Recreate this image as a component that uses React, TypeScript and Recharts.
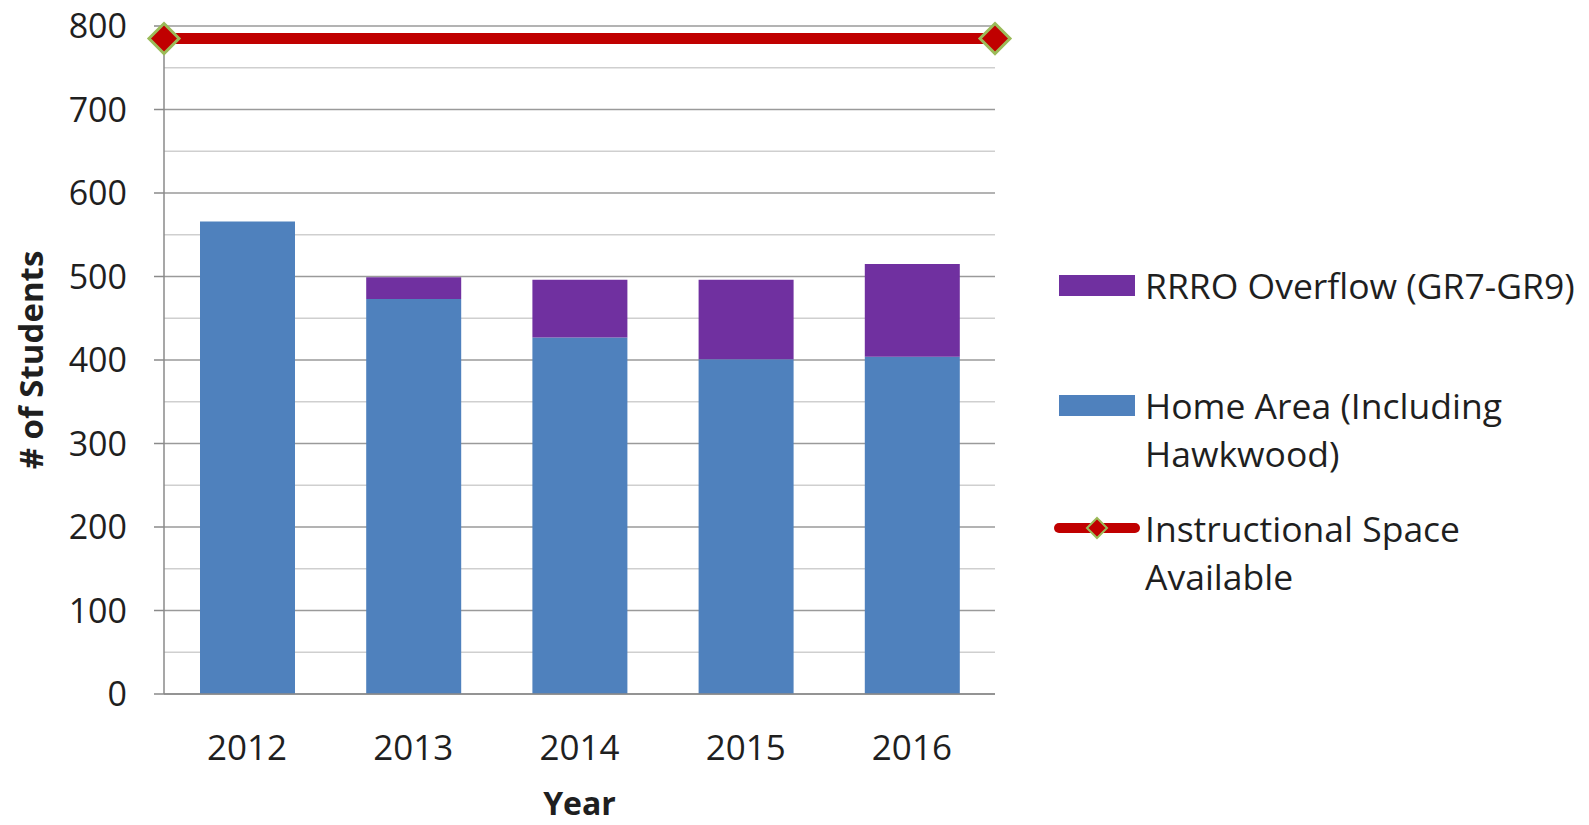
import React from 'react';
import { ComposedChart, Bar, Line, XAxis, YAxis, CartesianGrid, Legend, Label } from 'recharts';

// values
const YEARS = ['2012', '2013', '2014', '2015', '2016'];
const HOME_AREA = [566, 473, 427, 401, 404];
const RRRO_OVERFLOW = [0, 26, 69, 95, 111];
const INSTRUCTIONAL_SPACE = [785, 785];
const Y_TICKS = [0, 100, 200, 300, 400, 500, 600, 700, 800];
const MINOR_GRID = [50, 150, 250, 350, 450, 550, 650, 750];

const NAME_OVERFLOW = 'RRRO Overflow (GR7-GR9)';
const NAME_HOME = 'Home Area (Including Hawkwood)';
const NAME_SPACE = 'Instructional Space Available';

const BLUE = '#4F81BD';
const PURPLE = '#7030A0';
const RED = '#C00000';
const GREEN = '#9BBB59';
const FONT = '"Open Sans", sans-serif';
const TEXT = '#1f1f1f';

const chartData = YEARS.map((year, i) => ({
  year,
  home: HOME_AREA[i],
  overflow: RRRO_OVERFLOW[i],
}));

// the capacity line runs edge to edge of the plot, so it sits on its own 0..1 axis
const spaceData = INSTRUCTIONAL_SPACE.map((space, i) => ({
  pos: i / (INSTRUCTIONAL_SPACE.length - 1),
  space,
}));

const Diamond = ({ cx, cy, r, strokeWidth }: any) => (
  <path
    d={`M${cx} ${cy - r} L${cx + r} ${cy} L${cx} ${cy + r} L${cx - r} ${cy} Z`}
    fill={RED}
    stroke={GREEN}
    strokeWidth={strokeWidth}
  />
);

const legendRows = [
  { name: NAME_OVERFLOW, lines: ['RRRO Overflow (GR7-GR9)'], color: PURPLE, kind: 'bar', gap: 0 },
  { name: NAME_HOME, lines: ['Home Area (Including', 'Hawkwood)'], color: BLUE, kind: 'bar', gap: 72 },
  { name: NAME_SPACE, lines: ['Instructional Space', 'Available'], color: RED, kind: 'line', gap: 27 },
];

const renderLegend = () => (
  <div style={{ fontFamily: FONT, fontSize: 35.5, color: TEXT, lineHeight: '48px' }}>
    {legendRows.map((row) => (
      <div key={row.name} style={{ display: 'flex', alignItems: 'flex-start', marginTop: row.gap }}>
        <svg width={91} height={48} style={{ flex: 'none' }}>
          {row.kind === 'bar' ? (
            <rect x={5} y={14} width={76} height={21} fill={row.color} />
          ) : (
            <g>
              <line x1={5} y1={24} x2={81} y2={24} stroke={row.color} strokeWidth={10} strokeLinecap="round" />
              <Diamond cx={43} cy={24} r={10} strokeWidth={2} />
            </g>
          )}
        </svg>
        <div style={{ whiteSpace: 'nowrap' }}>
          {row.lines.map((l) => (
            <div key={l}>{l}</div>
          ))}
        </div>
      </div>
    ))}
  </div>
);

const YTitle = ({ viewBox }: any) => {
  const cy = viewBox.y + viewBox.height / 2;
  return (
    <text
      x={30}
      y={cy}
      transform={`rotate(-90, 30, ${cy})`}
      textAnchor="middle"
      dominantBaseline="central"
      fontFamily={FONT}
      fontWeight="bold"
      fontSize={33}
      fill={TEXT}
    >
      # of Students
    </text>
  );
};

export default function App() {
  return (
    <div style={{ position: 'absolute', left: 0, top: 0, width: 1589, height: 825, background: '#fff' }}>
      <ComposedChart
        width={1589}
        height={825}
        data={chartData}
        margin={{ top: 26, right: 594, left: 0, bottom: 0 }}
      >
        <CartesianGrid vertical={false} horizontalValues={MINOR_GRID} stroke="#cfcfcf" strokeWidth={1.5} />
        <CartesianGrid vertical={false} horizontalValues={Y_TICKS} stroke="#9a9a9a" strokeWidth={1.5} />
        <XAxis
          dataKey="year"
          height={131}
          tickLine={false}
          tickSize={0}
          tickMargin={41}
          axisLine={{ stroke: '#8a8a8a', strokeWidth: 1.5 }}
          tick={{ fontFamily: FONT, fontSize: 35, fill: TEXT }}
        >
          <Label
            value="Year"
            position="insideBottom"
            offset={10}
            style={{ fontFamily: FONT, fontWeight: 'bold', fontSize: 32, fill: TEXT }}
          />
        </XAxis>
        <XAxis xAxisId="space" type="number" dataKey="pos" domain={[0, 1]} hide />
        <YAxis
          width={164}
          domain={[0, 800]}
          ticks={Y_TICKS}
          interval={0}
          tickSize={10}
          tickMargin={27}
          axisLine={{ stroke: '#8a8a8a', strokeWidth: 1.5 }}
          tickLine={{ stroke: '#8a8a8a', strokeWidth: 1.5 }}
          tick={{ fontFamily: FONT, fontSize: 34, fill: TEXT }}
          label={<YTitle />}
        />
        <Legend
          layout="vertical"
          align="center"
          verticalAlign="middle"
          content={renderLegend}
          wrapperStyle={{ left: 1054, top: 261, width: 535 }}
        />
        <Bar dataKey="home" name={NAME_HOME} stackId="a" fill={BLUE} barSize={95} isAnimationActive={false} />
        <Bar dataKey="overflow" name={NAME_OVERFLOW} stackId="a" fill={PURPLE} barSize={95} isAnimationActive={false} />
        <Line
          xAxisId="space"
          data={spaceData}
          dataKey="space"
          name={NAME_SPACE}
          stroke={RED}
          strokeWidth={11}
          dot={(p: any) => <Diamond key={`d-${p.index}`} cx={p.cx} cy={p.cy} r={15} strokeWidth={3} />}
          activeDot={false}
          isAnimationActive={false}
        />
      </ComposedChart>
    </div>
  );
}
